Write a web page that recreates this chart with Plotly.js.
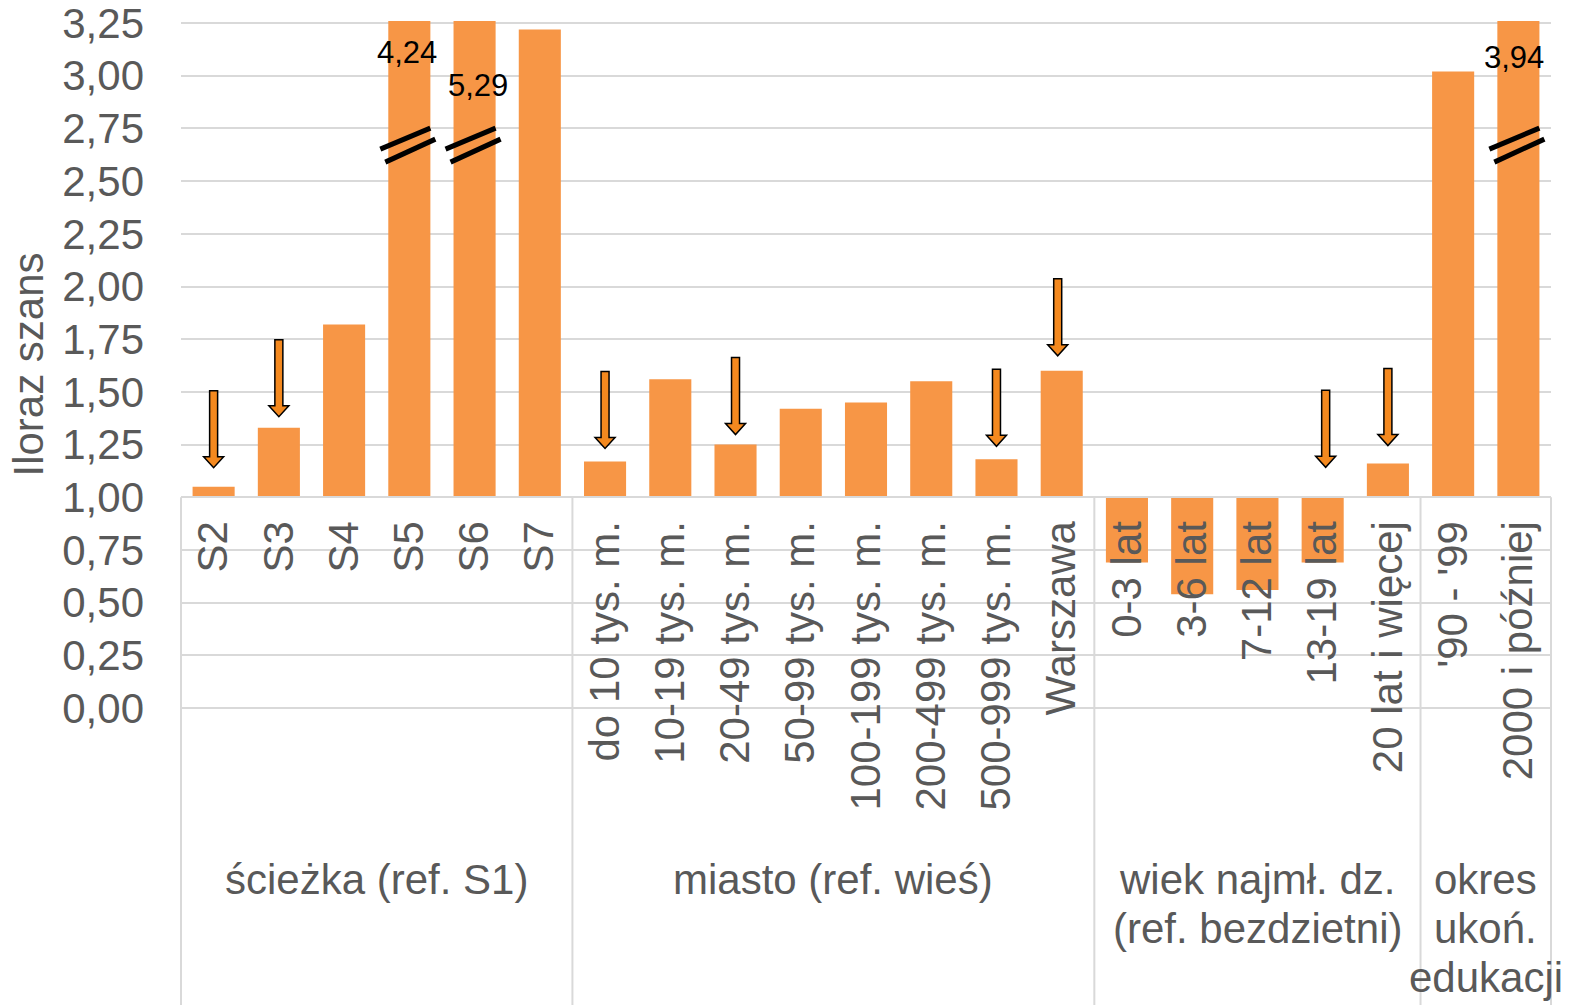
<!DOCTYPE html>
<html><head><meta charset="utf-8">
<script src="https://cdn.plot.ly/plotly-3.0.1.min.js"></script>
<style>html,body{margin:0;padding:0;background:#fff}#chart{width:1573px;height:1005px}</style>
</head><body><div id="chart"></div>
<script>
// ---- data ----
const categories = ["S2","S3","S4","S5","S6","S7",
  "do 10 tys. m.","10-19 tys. m.","20-49 tys. m.","50-99 tys. m.","100-199 tys. m.","200-499 tys. m.","500-999 tys. m.","Warszawa",
  "0-3 lat","3-6 lat","7-12 lat","13-19 lat","20 lat i więcej",
  "'90 - '99","2000 i później"];
const oddsRatios = [1.05,1.33,1.82,4.24,5.29,3.22,
  1.17,1.56,1.25,1.42,1.45,1.55,1.18,1.60,
  0.69,0.54,0.56,0.69,1.16,
  3.02,3.94];
const groupNames = [["ścieżka (ref. S1)"],["miasto (ref. wieś)"],["wiek najmł. dz.","(ref. bezdzietni)"],["okres","ukoń.","edukacji"]];
const groupSizes = [6,8,5,2];
const brokenBars = ["S5","S6","2000 i później"];
const arrowCategories = ["S2","S3","do 10 tys. m.","20-49 tys. m.","500-999 tys. m.","Warszawa","13-19 lat","20 lat i więcej"];
const yTicks = [0,0.25,0.5,0.75,1,1.25,1.5,1.75,2,2.25,2.5,2.75,3,3.25];
const baseline = 1;

// ---- layout geometry / style ----
const W = 1573, H = 1005;
const yMax = 3.25;
const yTop = 3.26;                          // small headroom so the 3,25 grid line is kept
const pxY = 685 / yMax;                     // px per data unit
const plotH = pxY * yTop;
const M = {l:181, r:22, b:297};
M.t = H - M.b - plotH;
const plotW = W - M.l - M.r;
const pxX = plotW / categories.length;      // px per category unit
const GRID = '#D9D9D9', TXT = '#595959', BAR = '#F79646';
const FONT = 'Liberation Sans, Arial, sans-serif';
const paperFromPix = p => (H - M.b - p) / plotH;

const shapes = [];
// category table dividers below the baseline
let k = 0;
const bounds = [0];
groupSizes.forEach(s => { k += s; bounds.push(k); });
bounds.forEach(b => {
  shapes.push({type:'line', xref:'paper', yref:'paper', x0:b/categories.length, x1:b/categories.length,
    y0: baseline/yTop, y1: -0.6, line:{color:GRID, width:2}, layer:'above'});
});

// break marks on bars exceeding the axis
const breakStyle = [
  {dx0:-29, dx1:21, dy0:-8, dy1:13},
  {dx0:-24, dx1:26, dy0:-21, dy1:2}
];
const breakRef = 2.69;
brokenBars.forEach(c => {
  const i = categories.indexOf(c);
  breakStyle.forEach(s => {
    shapes.push({type:'line', xref:'x', yref:'y',
      x0: i + s.dx0/pxX, x1: i + s.dx1/pxX,
      y0: breakRef + s.dy0/pxY, y1: breakRef + s.dy1/pxY,
      line:{color:'#000', width:5}, layer:'above'});
  });
});

// arrows (non-significant markers)
const arrowGapPx = {"S2":19,"S3":11,"do 10 tys. m.":13,"20-49 tys. m.":10,"500-999 tys. m.":13,"Warszawa":15,"13-19 lat":30,"20 lat i więcej":18};
const arrowDxPx = {"Warszawa":-4,"13-19 lat":3};
arrowCategories.forEach(c => {
  const i = categories.indexOf(c);
  const v = oddsRatios[i];
  const tip = Math.max(v, baseline) + (arrowGapPx[c] || 14) / pxY;
  const cx = i + (arrowDxPx[c] || 0) / pxX;
  const hw = 4/pxX, hh = 10/pxX, headH = 11/pxY, len = 77/pxY;
  const top = tip + len, neck = tip + headH;
  const p = `M${cx-hw},${top} L${cx+hw},${top} L${cx+hw},${neck} L${cx+hh},${neck} L${cx},${tip} L${cx-hh},${neck} L${cx-hw},${neck} Z`;
  shapes.push({type:'path', xref:'x', yref:'y', path:p, fillcolor:'#F4891F', line:{color:'#000', width:1.5}, layer:'above'});
});

const annotations = [];
// group labels
let start = 0;
groupNames.forEach((lines, g) => {
  const center = start + groupSizes[g]/2 - 0.5;
  lines.forEach((t, j) => {
    const pix = 880 + 49*j;
    annotations.push({xref:'x', yref:'paper', x:center, y:paperFromPix(pix), text:t, showarrow:false,
      xanchor:'center', yanchor:'middle', font:{family:FONT, size:42, color:TXT}});
  });
  start += groupSizes[g];
});
// value labels of broken bars
const labelPos = {"S5":{y:52, dx:-2}, "S6":{y:85, dx:3}, "2000 i później":{y:57, dx:-4}};
brokenBars.forEach(c => {
  const i = categories.indexOf(c);
  annotations.push({xref:'x', yref:'paper', x:i, xshift:labelPos[c].dx, y:paperFromPix(labelPos[c].y),
    text: oddsRatios[i].toFixed(2).replace('.', ','), showarrow:false, xanchor:'center', yanchor:'middle',
    font:{family:FONT, size:31, color:'#000'}});
});

const trace = {
  type:'bar', x:categories, y:oddsRatios.map(v => v - baseline), base:baseline,
  marker:{color:BAR, line:{width:0}}, hoverinfo:'skip'
};

const layout = {
  width:W, height:H, margin:M, paper_bgcolor:'#fff', plot_bgcolor:'#fff',
  separators:', ', showlegend:false, bargap:0.355,
  font:{family:FONT, color:TXT},
  xaxis:{type:'category', range:[-0.5, categories.length-0.5], anchor:'free', position: baseline/yTop,
    showline:true, linecolor:GRID, linewidth:2, showgrid:false, ticks:'', tickangle:-90,
    ticklabelstandoff:6, ticklabeloverflow:'allow', tickfont:{family:FONT, size:42, color:TXT}, fixedrange:true},
  yaxis:{range:[0, yTop], tickvals:yTicks, tickformat:'.2f', showgrid:true, gridcolor:GRID, gridwidth:2,
    zeroline:true, zerolinecolor:GRID, zerolinewidth:2, showline:false, ticks:'',
    ticklabelstandoff:36, ticklabeloverflow:'allow', tickfont:{family:FONT, size:42, color:TXT},
    title:{text:'Iloraz szans', standoff:5, font:{family:FONT, size:42, color:TXT}}, fixedrange:true},
  shapes:shapes, annotations:annotations
};

Plotly.newPlot('chart', [trace], layout, {displayModeBar:false, staticPlot:true});
</script>
</body></html>
